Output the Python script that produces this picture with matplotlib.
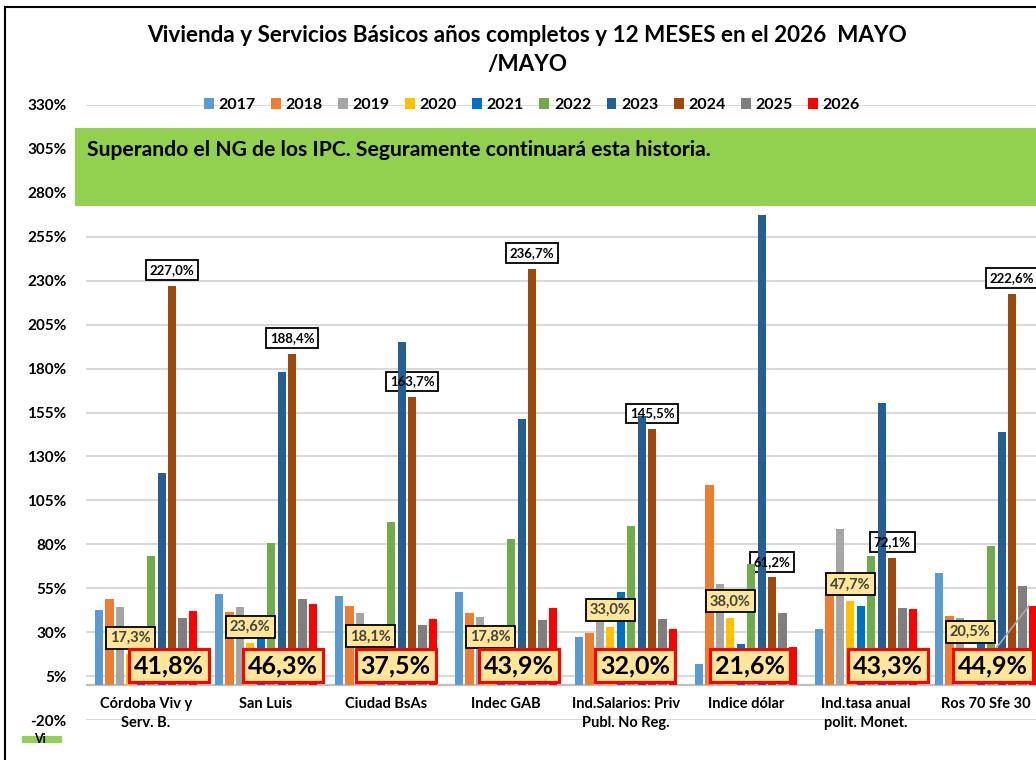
import matplotlib
matplotlib.use("Agg")
import matplotlib.pyplot as plt
import numpy as np
from matplotlib.patches import Rectangle, Patch
from matplotlib.lines import Line2D

plt.rcParams['font.family'] = ['Lato', 'DejaVu Sans']
plt.rcParams['font.weight'] = 'bold'

# ---------------- data ----------------
categories = ["Córdoba Viv y\nServ. B.", "San Luis", "Ciudad BsAs", "Indec GAB",
              "Ind.Salarios: Priv\nPubl. No Reg.", "Indice dólar",
              "Ind.tasa anual\npolit. Monet.", "Ros 70 Sfe 30"]
years = ["2017", "2018", "2019", "2020", "2021", "2022", "2023", "2024", "2025", "2026"]

v2017 = [42.8, 51.9, 50.4, 52.8, 27.0, 11.7, 31.6, 63.9]
v2018 = [48.7, 41.5, 45.1, 41.1, 29.5, 113.5, 52.0, 39.0]
v2019 = [44.1, 44.5, 41.1, 38.8, 35.7, 57.6, 88.5, 38.0]
v2020 = [17.3, 23.6, 18.1, 17.8, 33.0, 38.0, 47.7, 20.5]
v2021 = [14.0, 27.0, 12.0, 14.0, 52.8, 23.5, 45.1, 23.0]
v2022 = [73.3, 80.9, 92.7, 82.8, 90.2, 69.0, 73.3, 78.8]
v2023 = [120.6, 178.0, 195.3, 151.5, 152.8, 267.2, 160.4, 143.7]
v2024 = [227.0, 188.4, 163.7, 236.7, 145.5, 61.2, 72.1, 222.6]
v2025 = [38.2, 48.7, 34.3, 37.1, 37.7, 41.1, 43.9, 56.2]
v2026 = [41.8, 46.3, 37.5, 43.9, 32.0, 21.6, 43.3, 44.9]

series = [v2017, v2018, v2019, v2020, v2021, v2022, v2023, v2024, v2025, v2026]
yticks = list(range(-20, 331, 25))

title_l1 = "Vivienda y Servicios Básicos años completos y 12 MESES en el 2026  MAYO"
title_l2 = "/MAYO"
banner = "Superando el NG de los IPC. Seguramente continuará esta historia."

# ---------------- style / layout ----------------
colors = ["#5B9BD5", "#ED7D31", "#A5A5A5", "#FFC000", "#0070C0",
          "#70AD47", "#255E91", "#9E480E", "#7F7F7F", "#FF0000"]
W, H = 1036, 760
pitch = 0.087
bw = 0.068
big_label_dx = [0.19, 0.14, 0.08, 0.11, 0.075, 0.03, 0.18, 0.06]
big_label_y = 11

def fmt(v):
    return f"{v:.1f}".replace(".", ",") + "%"

fig = plt.figure(figsize=(W / 100, H / 100), dpi=100)
ax = fig.add_axes([86 / W, 40 / H, 960 / W, 615 / H])
ax.set_xlim(-0.5, 7.5)
ax.set_ylim(-20, 330)

x = np.arange(len(categories))
offs = [(i - 4.5) * pitch for i in range(len(years))]
for i, (yr, vals) in enumerate(zip(years, series)):
    ax.bar(x + offs[i], vals, width=bw, color=colors[i], zorder=3, label=yr)

ax.set_yticks(yticks)
ax.set_yticklabels([f"{t}%" for t in yticks], fontsize=11, fontweight='bold')
ax.yaxis.grid(True, color='#D9D9D9', lw=1.5)
ax.set_axisbelow(True)
ax.tick_params(axis='y', length=0, pad=14)
ax.set_xticks([])
for s in ax.spines.values():
    s.set_visible(False)
ax.axhline(0, color='#BFBFBF', lw=1.6, zorder=2.6)

# category labels
for xi, c in zip(x, categories):
    ax.annotate(c, xy=(xi, 0), xytext=(0, -9), textcoords='offset points',
                ha='center', va='top', fontsize=10.5, fontweight='bold',
                linespacing=1.45, annotation_clip=False)

# 2024 labels: box beneath the bars, text on top
for xi, v in zip(x, v2024):
    ax.annotate(fmt(v), xy=(xi + offs[7], v), xytext=(0, 7), textcoords='offset points',
                ha='center', va='bottom', fontsize=9.5, fontweight='bold', color='none',
                bbox=dict(boxstyle='square,pad=0.3', fc='white', ec='black', lw=1.3),
                zorder=2.8)
    ax.annotate(fmt(v), xy=(xi + offs[7], v), xytext=(0, 7), textcoords='offset points',
                ha='center', va='bottom', fontsize=9.5, fontweight='bold', color='black',
                zorder=8)

# 2020 labels (yellow boxes)
for xi, v in zip(x, v2020):
    ax.annotate(fmt(v), xy=(xi + offs[3], v), xytext=(0, 7), textcoords='offset points',
                ha='center', va='bottom', fontsize=10.5, fontweight='bold', color='#404040',
                bbox=dict(boxstyle='square,pad=0.28', fc='#FFE699', ec='black', lw=1.3),
                zorder=6)

# 2026 labels (big red boxes)
for xi, v, dx in zip(x, v2026, big_label_dx):
    ax.text(xi + dx, big_label_y, fmt(v), ha='center', va='center', fontsize=18,
            fontweight='bold', color='black',
            bbox=dict(boxstyle='square,pad=0.2', fc='#FFE699', ec='#FF0000', lw=2.2),
            zorder=7)

# leader line for last group
ax.plot([x[-1] + 0.08, x[-1] + offs[9] - bw / 2], [20.5, v2026[-1]],
        color='#A6A6A6', lw=1.2, zorder=6.5, clip_on=False)

# legend
handles = [Patch(facecolor=colors[i], edgecolor='none', label=yr) for i, yr in enumerate(years)]
fig.legend(handles=handles, ncol=10, loc='center', bbox_to_anchor=(532 / W, (H - 105) / H),
           frameon=False, handlelength=0.62, handleheight=0.62,
           handletextpad=0.3, columnspacing=0.95, prop={'weight': 'bold', 'size': 11.5})

# title
fig.text(527 / W, (H - 36) / H, title_l1, ha='center', va='center', fontsize=16.2,
         fontweight='bold')
fig.text(527 / W, (H - 65) / H, title_l2, ha='center', va='center', fontsize=16.2,
         fontweight='bold')

# green banner
fig.add_artist(Rectangle((75 / W, (H - 206) / H), 1.0, 78 / H, transform=fig.transFigure,
                         facecolor='#92D050', edgecolor='none', zorder=5))
fig.text(87 / W, (H - 150) / H, banner, ha='left', va='center', fontsize=15.2,
         fontweight='bold', color='black', zorder=6)

# fragment bottom-left
fig.add_artist(Rectangle((22 / W, (H - 743) / H), 40 / W, 7 / H, transform=fig.transFigure,
                         facecolor='#92D050', edgecolor='none', zorder=5))
fig.text(40 / W, (H - 739) / H, "Vi", ha='center', va='center', fontsize=9,
         fontweight='bold', zorder=6)

# frame
fig.add_artist(Line2D([5 / W, 5 / W], [0, (H - 7) / H], transform=fig.transFigure,
                      color='black', lw=1.5))
fig.add_artist(Line2D([5 / W, 1], [(H - 7) / H, (H - 7) / H], transform=fig.transFigure,
                      color='black', lw=1.5))

fig.savefig("out.png", dpi=100)
